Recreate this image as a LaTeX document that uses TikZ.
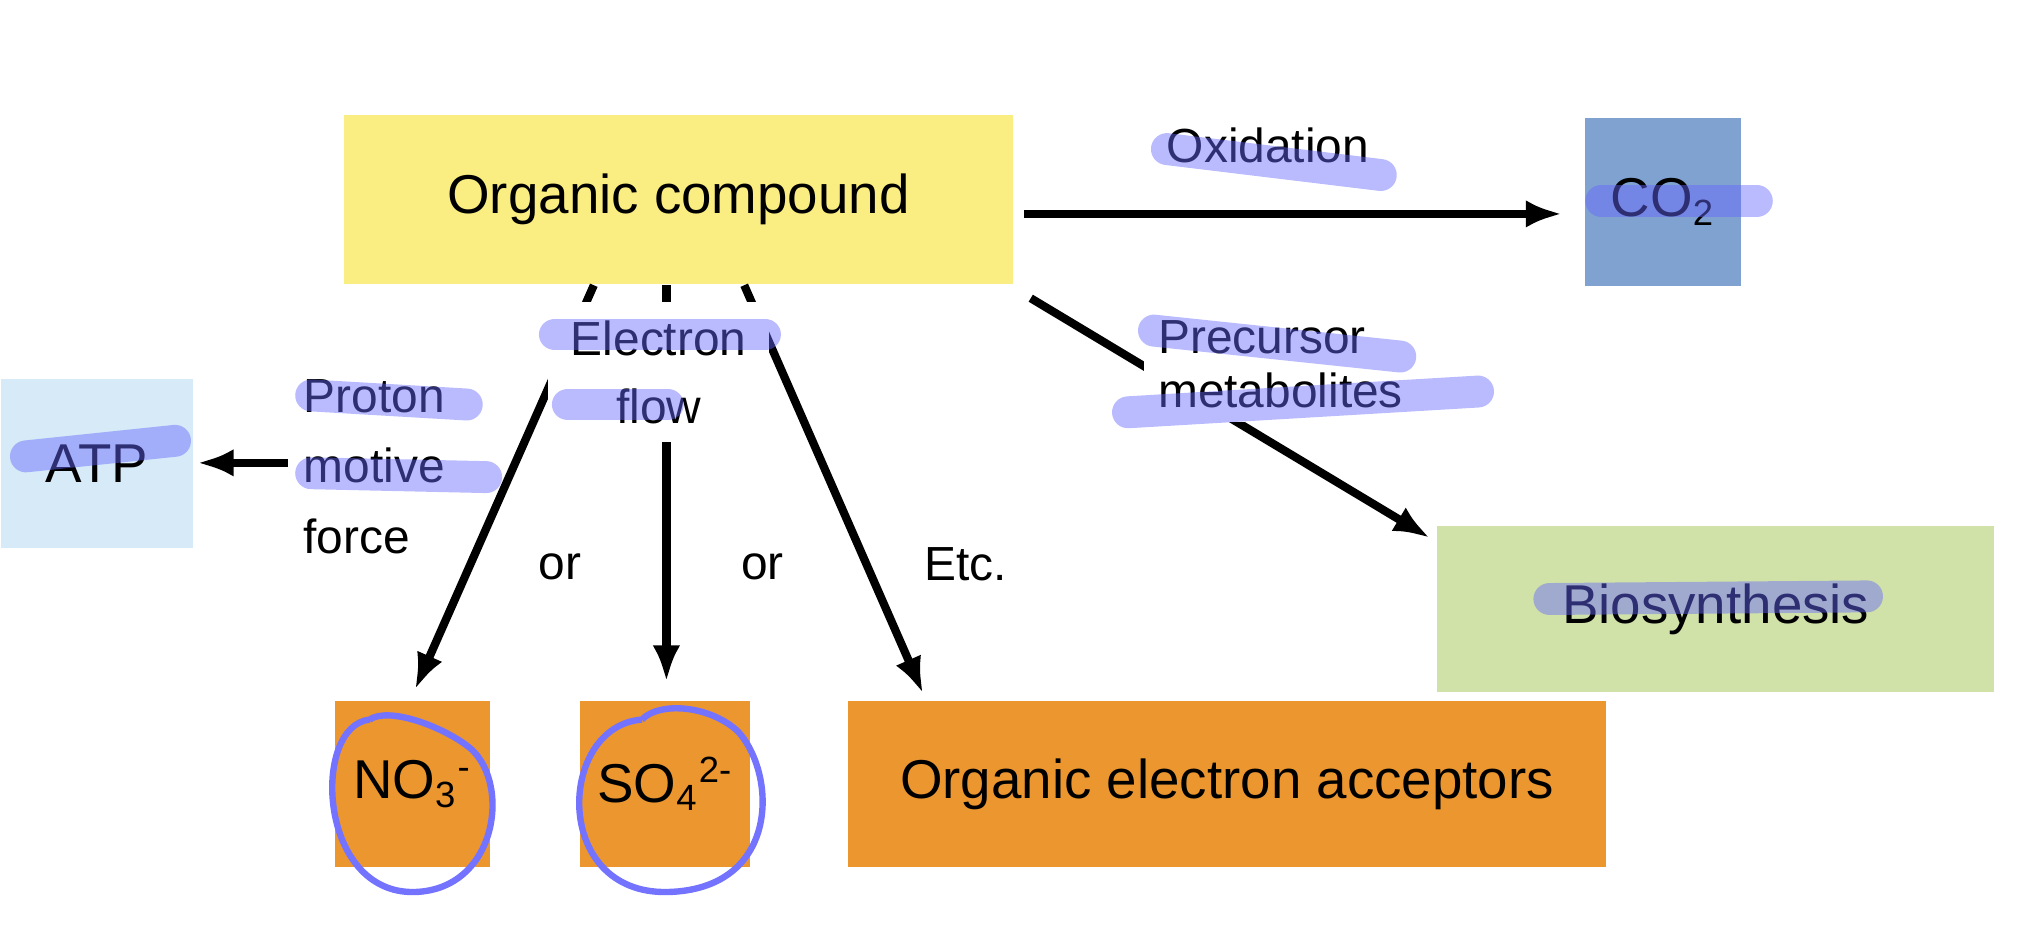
\documentclass[tikz,border=0pt]{standalone}
\usepackage{fontspec}
\usetikzlibrary{arrows.meta}
\setmainfont{Liberation Sans}
\definecolor{cob}{RGB}{128,162,208}
\definecolor{atpb}{RGB}{214,234,248}
\definecolor{biog}{RGB}{208,226,168}
\definecolor{orng}{RGB}{236,150,48}
\definecolor{ylw}{RGB}{250,238,130}
\begin{document}
\begin{tikzpicture}[x=0.01cm,y=-0.01cm,
  box/.style={draw=none,anchor=north west,inner sep=0pt,font=\fontsize{12}{14}\selectfont},
  lab/.style={font=\fontsize{10.5}{12}\selectfont,inner sep=1pt,fill=white},
  arr/.style={-{Latex[length=8pt,width=6pt]},line width=1.8pt},
  hl/.style={line width=7pt,line cap=round,draw=blue!60!white,opacity=0.45},
  circ/.style={line width=1.4pt,draw=blue!55!white}]
\useasboundingbox (0,0) rectangle (1568,725);
\node[box,fill=ylw,minimum width=5.15cm,minimum height=1.30cm] (oc) at (265,88) {Organic compound};
\node[box,fill=cob,minimum width=1.20cm,minimum height=1.30cm] (co2) at (1222,90) {CO\textsubscript{2}};
\node[box,fill=atpb,minimum width=1.48cm,minimum height=1.30cm] (atp) at (0,292) {ATP};
\node[box,fill=biog,minimum width=4.29cm,minimum height=1.28cm] (bio) at (1108,405) {Biosynthesis};
\node[box,fill=orng,minimum width=1.19cm,minimum height=1.28cm] (no3) at (258,540) {NO\textsubscript{3}\textsuperscript{-}};
\node[box,fill=orng,minimum width=1.31cm,minimum height=1.28cm] (so4) at (447,540) {SO\textsubscript{4}\textsuperscript{2-}};
\node[box,fill=orng,minimum width=5.85cm,minimum height=1.28cm] (oea) at (653,540) {Organic electron acceptors};
\coordinate (s1) at (458,220); \coordinate (s2) at (514,220); \coordinate (s3) at (574,220);
\coordinate (t1) at (320,532); \coordinate (t2) at (514,526); \coordinate (t3) at (712,535);
\coordinate (pa) at (795,230); \coordinate (pb) at (1103,415);
\coordinate (o1) at (790,165); \coordinate (o2) at (1205,165);
\coordinate (pm) at (222,357); \coordinate (pe) at (152,357);
\draw[arr] (o1) -- (o2);
\draw[arr] (s1) -- (t1);
\draw[arr] (s2) -- (t2);
\draw[arr] (s3) -- (t3);
\draw[arr] (pa) -- (pb);
\draw[arr] (pm) -- (pe);
\node[lab] (ox) at (978,112) {Oxidation};
\node[lab,align=left,anchor=west,inner sep=3pt] (pre) at (882,281) {Precursor\\metabolites};
\node[lab,align=center,inner xsep=5pt,inner ysep=4pt,font=\fontsize{10.5}{15}\selectfont] (ef) at (508,287) {Electron\\flow};
\node[lab,align=left,anchor=west,fill=none,font=\fontsize{10.5}{15.5}\selectfont] (pmf) at (230,360) {Proton\\motive\\force};
\node[lab,fill=none] (or1) at (432,437) {or};
\node[lab,fill=none] (or2) at (588,437) {or};
\node[lab,fill=none] (etc) at (745,435) {Etc.};
% highlighter annotations
\draw[hl] (900,115) -- (1065,135);
\draw[hl] (1235,155) -- (1355,155);
\draw[hl] (890,255) -- (1080,275);
\draw[hl] (870,318) -- (1140,302);
\draw[hl] (428,258) -- (590,258);
\draw[hl] (438,312) -- (515,312);
\draw[hl] (240,305) -- (360,312);
\draw[hl] (240,365) -- (375,368);
\draw[hl] (20,352) -- (135,340);
\draw[hl] (1195,462) -- (1440,460);
\draw[circ] (285,555) .. controls (240,560) and (245,690) .. (320,688) .. controls (385,686) and (395,600) .. (360,575) .. controls (340,560) and (300,545) .. (285,555);
\draw[circ] (495,555) .. controls (430,560) and (425,690) .. (515,688) .. controls (600,686) and (600,600) .. (570,565) .. controls (550,545) and (510,540) .. (495,555);
\end{tikzpicture}
\end{document}
